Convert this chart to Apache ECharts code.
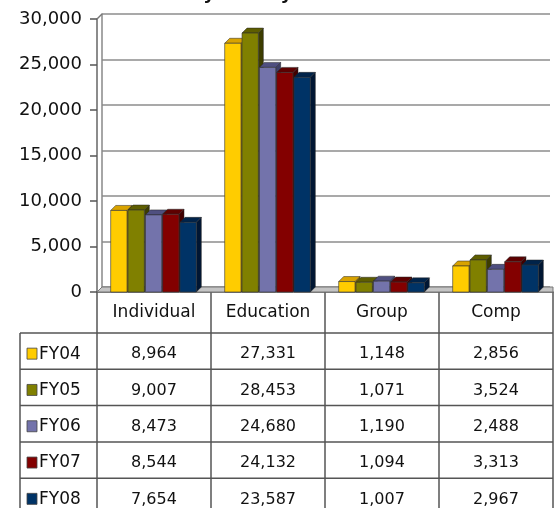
<!DOCTYPE html>
<html>
<head>
<meta charset="utf-8">
<script src="https://cdn.jsdelivr.net/npm/echarts@6/dist/echarts.min.js"></script>
<style>
  html, body { margin: 0; padding: 0; background: #fff; }
  #main { width: 555px; height: 508px; }
</style>
</head>
<body>
<div id="main"></div>
<script>
const categories = ['Individual', 'Education', 'Group', 'Comp'];
const years = ['FY04', 'FY05', 'FY06', 'FY07', 'FY08'];
const fy04 = [8964, 27331, 1148, 2856];
const fy05 = [9007, 28453, 1071, 3524];
const fy06 = [8473, 24680, 1190, 2488];
const fy07 = [8544, 24132, 1094, 3313];
const fy08 = [7654, 23587, 1007, 2967];
const yTicks = [0, 5000, 10000, 15000, 20000, 25000, 30000];

const values = [fy04, fy05, fy06, fy07, fy08];
// front, top, side colours per year
const colors = [
  ['#ffcc00', '#d9a300', '#a88400'],
  ['#808000', '#5e5e00', '#3d3d00'],
  ['#7373ab', '#4f4f80', '#3e3e66'],
  ['#830000', '#5e0000', '#420000'],
  ['#003366', '#00234a', '#001633'],
];

const W = 555;
const plotL = 97, plotR = 553, plotT = 19, plotB = 292;
const depth = 5;
const rowTop = 333, rowH = 36.3;
const font = 'DejaVu Sans';

const chart = echarts.init(document.getElementById('main'));

function barRenderer(si) {
  return function (params, api) {
    const cat = api.value(0);
    const val = api.value(1);
    const band = api.size([1, 0])[0];
    const groupW = band * 0.76;
    const w = groupW / 5;
    const top = api.coord([cat, val]);
    const base = api.coord([cat, 0]);
    const x0 = top[0] - groupW / 2 + si * w;
    const x1 = x0 + w - 1;
    const yt = top[1], yb = base[1];
    const c = colors[si];
    return {
      type: 'group',
      children: [
        {
          type: 'polygon',
          shape: { points: [[x1, yb], [x1 + depth, yb - depth], [x1 + depth, yt - depth], [x1, yt]] },
          style: { fill: c[2], stroke: '#222', lineWidth: 0.5 }
        },
        {
          type: 'polygon',
          shape: { points: [[x0, yt], [x0 + depth, yt - depth], [x1 + depth, yt - depth], [x1, yt]] },
          style: { fill: c[1], stroke: '#222', lineWidth: 0.5 }
        },
        {
          type: 'rect',
          shape: { x: x0, y: yt, width: x1 - x0, height: yb - yt },
          style: { fill: c[0], stroke: '#333', lineWidth: 0.6 }
        }
      ]
    };
  };
}

// data table drawn from the arrays
const table = [];
const lineStyle = { stroke: '#555', lineWidth: 1.5 };
const colW = (plotR - plotL) / categories.length;
for (let i = 0; i <= categories.length; i++) {
  const x = plotL + i * colW;
  table.push({ type: 'line', shape: { x1: x, y1: plotB, x2: x, y2: 508 }, style: lineStyle });
}
table.push({ type: 'line', shape: { x1: 20, y1: rowTop, x2: 20, y2: 508 }, style: lineStyle });
for (let r = 0; r < years.length; r++) {
  const y = rowTop + r * rowH;
  table.push({ type: 'line', shape: { x1: 20, y1: y, x2: plotR, y2: y }, style: lineStyle });
  const cy = y + rowH / 2 + 3;
  table.push({
    type: 'rect', shape: { x: 27, y: cy - 6, width: 10, height: 11 },
    style: { fill: colors[r][0], stroke: '#444', lineWidth: 0.8 }
  });
  table.push({
    type: 'text', x: 39, y: cy,
    style: { text: years[r], font: '17px "' + font + '"', fill: '#111', verticalAlign: 'middle' }
  });
  for (let i = 0; i < categories.length; i++) {
    table.push({
      type: 'text', x: plotL + (i + 0.5) * colW, y: cy,
      style: {
        text: values[r][i].toLocaleString('en-US'), font: '16px "' + font + '"',
        fill: '#111', align: 'center', verticalAlign: 'middle'
      }
    });
  }
}

const series = years.map((name, si) => ({
  name: name,
  type: 'custom',
  xAxisIndex: 0,
  yAxisIndex: 0,
  renderItem: barRenderer(si),
  data: values[si].map((v, i) => [i, v]),
  z: 10 + si
}));

chart.setOption({
  animation: false,
  grid: [
    { left: plotL, right: W - plotR, top: plotT, bottom: 508 - plotB },
    { left: plotL + depth, right: W - plotR + 3, top: plotT - depth, bottom: 508 - plotB + depth }
  ],
  xAxis: [
    {
      type: 'category', gridIndex: 0, data: categories,
      axisLine: { show: true, lineStyle: { color: '#555', width: 1.5 } },
      axisTick: { show: false },
      axisLabel: { margin: 12, fontFamily: font, fontSize: 17, color: '#111' }
    },
    {
      type: 'category', gridIndex: 1, data: categories,
      axisLine: { show: false }, axisTick: { show: false }, axisLabel: { show: false }
    }
  ],
  yAxis: [
    {
      type: 'value', gridIndex: 0, min: yTicks[0], max: yTicks[yTicks.length - 1], interval: 5000,
      axisLine: { show: true, lineStyle: { color: '#666', width: 1.5 } },
      axisTick: { show: true, length: 7, lineStyle: { color: '#555', width: 1.5 } },
      splitLine: { show: false },
      axisLabel: {
        margin: 15, fontFamily: font, fontSize: 18, color: '#111',
        formatter: v => v.toLocaleString('en-US')
      }
    },
    {
      type: 'value', gridIndex: 1, min: yTicks[0], max: yTicks[yTicks.length - 1], interval: 5000,
      axisLine: { show: true, lineStyle: { color: '#888', width: 1.5 } },
      axisTick: { show: false }, axisLabel: { show: false },
      splitLine: { show: true, lineStyle: { color: '#8c8c8c', width: 1.5 } }
    }
  ],
  series: series,
  graphic: [
    {
      type: 'text', x: 258, y: 3,
      style: {
        text: 'by fiscal year', font: 'bold 18px "' + font + '"', fill: '#111',
        align: 'center', verticalAlign: 'bottom'
      }
    },
    {
      type: 'polygon', z: 1,
      shape: { points: [[plotL, plotB], [plotL + depth, plotB - depth], [plotR, plotB - depth], [plotR, plotB]] },
      style: { fill: '#c4c4c4', stroke: '#777', lineWidth: 1 }
    },
    {
      type: 'line', z: 1,
      shape: { x1: plotL, y1: plotT, x2: plotL + depth, y2: plotT - depth },
      style: { stroke: '#777', lineWidth: 1.5 }
    },
    { type: 'group', children: table }
  ]
});
</script>
</body>
</html>
